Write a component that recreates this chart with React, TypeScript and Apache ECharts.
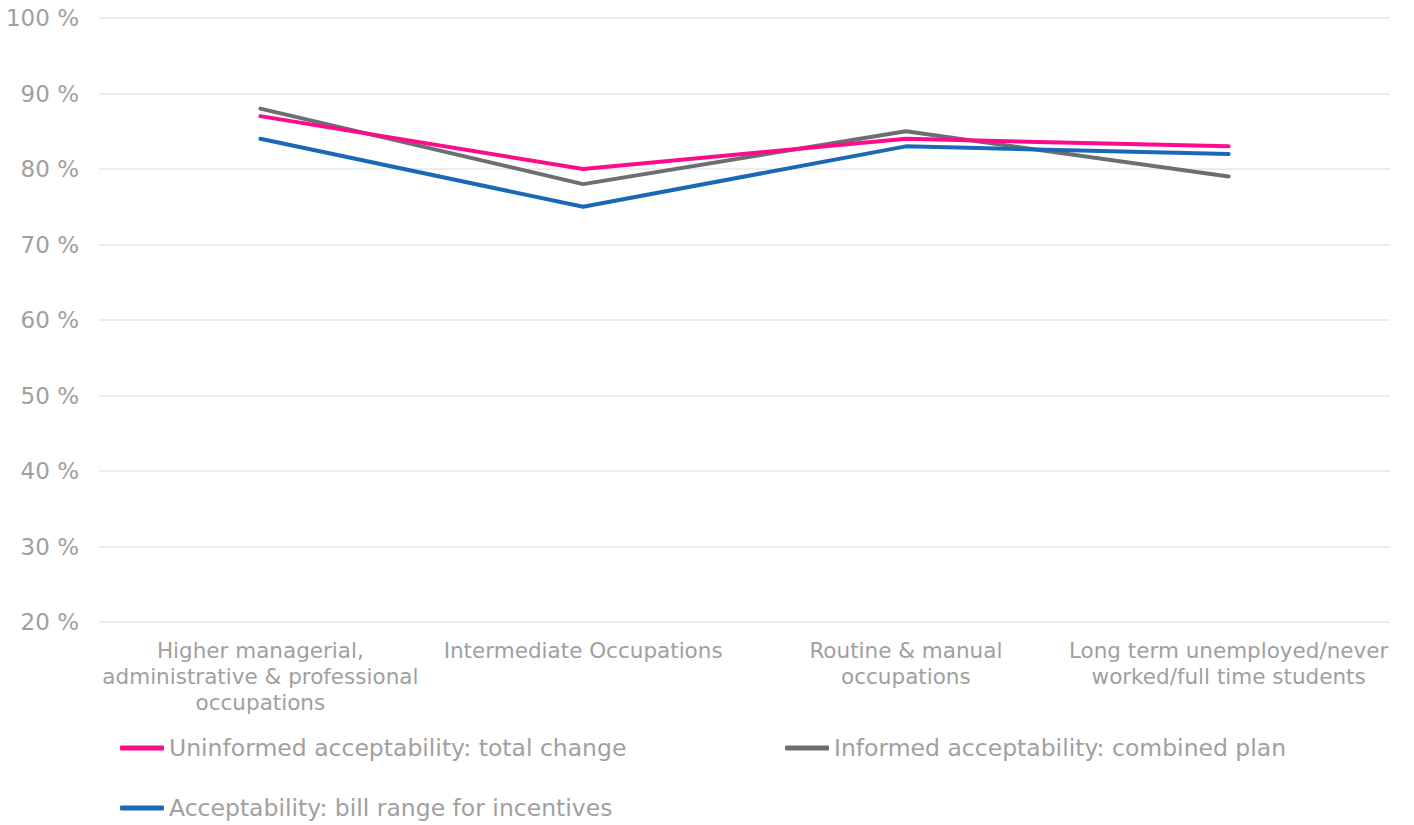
import React, { useEffect, useRef } from "react";
import * as echarts from "echarts";

const categories = [
  "Higher managerial,\nadministrative & professional\noccupations",
  "Intermediate Occupations",
  "Routine & manual\noccupations",
  "Long term unemployed/never\nworked/full time students",
];
const uninformedTotal = [87, 80, 84, 83];
const informedCombined = [88, 78, 85, 79];
const billRange = [84, 75, 83, 82];
const seriesNames = [
  "Uninformed acceptability: total change",
  "Informed acceptability: combined plan",
  "Acceptability: bill range for incentives",
];
const colors = ["#FF0A8C", "#6D6E72", "#1B69B6"];

export default function App() {
  const ref = useRef<HTMLDivElement>(null);
  useEffect(() => {
    document.body.style.margin = "0";
    const chart = echarts.init(ref.current!, null, { renderer: "svg" });
    const font = "DejaVu Sans";
    const textColor = "#A0A0A0";
    const legendBase = {
      orient: "vertical" as const,
      icon: "roundRect",
      itemWidth: 44,
      itemHeight: 5,
      textStyle: { fontFamily: font, fontSize: 23.5, color: textColor },
      padding: 0,
    };
    chart.setOption({
      animation: false,
      color: colors,
      grid: { left: 99, right: 24, top: 18, bottom: 203 },
      legend: [
        { ...legendBase, data: [seriesNames[0]], left: 120, top: 736 },
        { ...legendBase, data: [seriesNames[1]], left: 785, top: 736 },
        { ...legendBase, data: [seriesNames[2]], left: 120, top: 796 },
      ],
      xAxis: {
        type: "category",
        data: categories,
        boundaryGap: true,
        axisLine: { show: false },
        axisTick: { show: false },
        axisLabel: {
          interval: 0,
          margin: 15,
          fontFamily: font,
          fontSize: 21.5,
          lineHeight: 26,
          color: textColor,
        },
      },
      yAxis: {
        type: "value",
        min: 20,
        max: 100,
        interval: 10,
        axisLine: { show: false },
        axisTick: { show: false },
        axisLabel: {
          formatter: "{value} %",
          margin: 20,
          fontFamily: font,
          fontSize: 23,
          color: textColor,
        },
        splitLine: { lineStyle: { color: "#E6E6E6", width: 1.5 } },
      },
      series: [uninformedTotal, informedCombined, billRange].map((d, i) => ({
        name: seriesNames[i],
        type: "line",
        data: d,
        symbol: "none",
        lineStyle: { width: 4, cap: "round", join: "round" },
        z: i === 1 ? 1 : 2,
      })),
    });
    return () => chart.dispose();
  }, []);
  return <div ref={ref} style={{ width: 1414, height: 825 }} />;
}
